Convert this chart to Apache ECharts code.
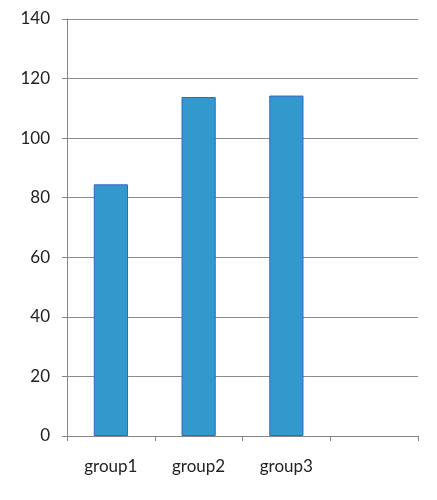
<!DOCTYPE html>
<html>
<head>
<meta charset="utf-8">
<script src="https://cdn.jsdelivr.net/npm/echarts@6/dist/echarts.min.js"></script>
<style>html,body{margin:0;padding:0;background:#fff}#c{width:437px;height:500px}</style>
</head>
<body>
<div id="c"></div>
<script>
var categories = ['group1', 'group2', 'group3', ''];
var values = [84.5, 113.8, 114.3, null];
var yTicks = { min: 0, max: 140, interval: 20 };

var chart = echarts.init(document.getElementById('c'), null, { renderer: 'canvas' });
chart.setOption({
  animation: false,
  grid: { left: 67, right: 19, top: 19, bottom: 64, containLabel: false },
  xAxis: {
    type: 'category',
    data: categories,
    axisLine: { lineStyle: { color: '#868686', width: 1 } },
    axisTick: { show: true, length: 5, alignWithLabel: false, lineStyle: { color: '#868686' } },
    axisLabel: { color: '#222', fontFamily: 'Lato', fontSize: 17, margin: 22 },
    splitLine: { show: false }
  },
  yAxis: {
    type: 'value',
    min: yTicks.min, max: yTicks.max, interval: yTicks.interval,
    axisLine: { show: true, lineStyle: { color: '#868686', width: 1 } },
    axisTick: { show: true, length: 5, lineStyle: { color: '#868686' } },
    axisLabel: { color: '#222', fontFamily: 'Lato', fontSize: 17, margin: 17 },
    splitLine: { show: true, lineStyle: { color: '#8c8c8c', width: 1 } }
  },
  series: [{
    type: 'bar',
    data: values,
    barWidth: '39%',
    itemStyle: { color: '#3399cc', borderColor: '#3366cc', borderWidth: 1 }
  }]
});
</script>
</body>
</html>
